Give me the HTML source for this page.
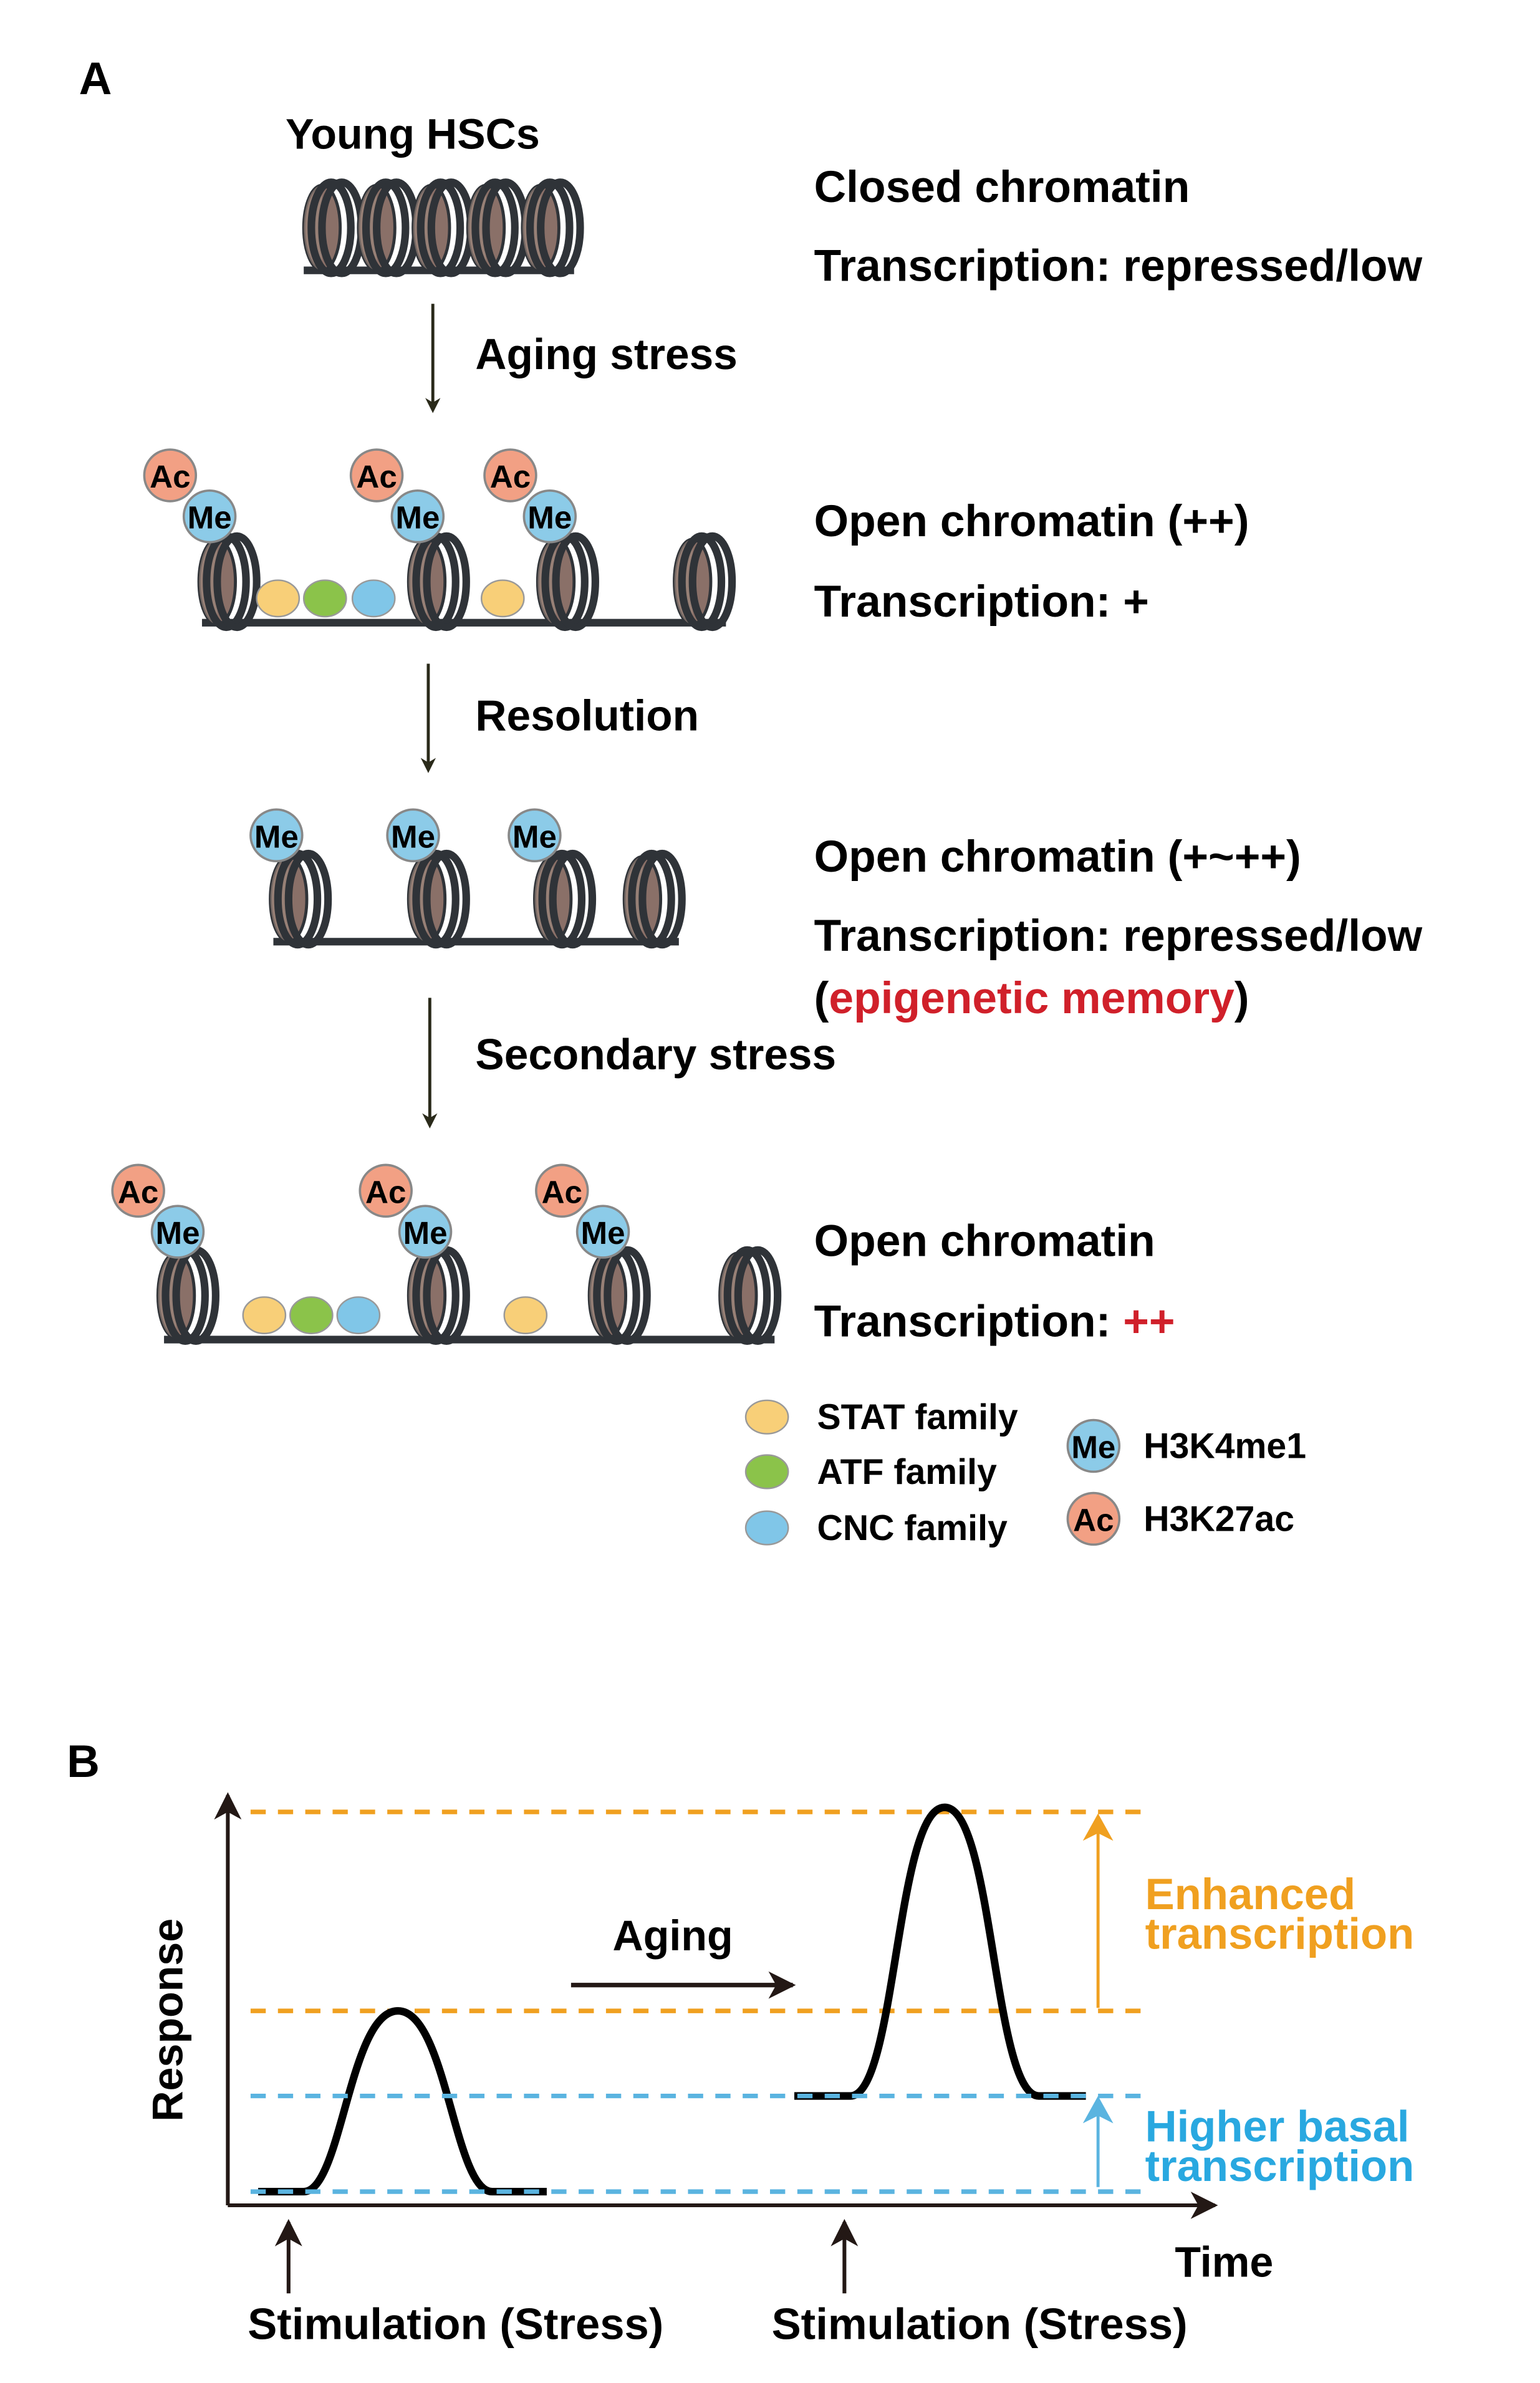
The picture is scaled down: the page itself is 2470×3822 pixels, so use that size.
<!DOCTYPE html>
<html><head><meta charset="utf-8"><style>
html,body{margin:0;padding:0;background:#fff}
svg{display:block}
text{font-family:"Liberation Sans",Arial,sans-serif;font-weight:bold}
</style></head><body>
<svg width="2470" height="3822" viewBox="0 0 1014 1569" preserveAspectRatio="none" xmlns="http://www.w3.org/2000/svg">
<defs>
<g id="nuc">
  <ellipse cx="0" cy="0" rx="12" ry="28" fill="#8a7068" stroke="#2f3338" stroke-width="2"/>
  <path d="M0,-28 A12,28 0 0 0 0,28 Z" fill="#a08a80" opacity="0.6"/>
  <ellipse cx="6" cy="0" rx="13" ry="30" fill="none" stroke="#2f3338" stroke-width="5"/>
  <ellipse cx="13" cy="0" rx="13" ry="30" fill="none" stroke="#2f3338" stroke-width="5"/>
</g>
<g id="me"><circle r="17" fill="#8ccbe8" stroke="#888" stroke-width="1.5"/><text y="8" text-anchor="middle" font-size="21" fill="#000">Me</text></g>
<g id="ac"><circle r="17" fill="#f2a084" stroke="#888" stroke-width="1.5"/><text y="8" text-anchor="middle" font-size="21" fill="#000">Ac</text></g>
<marker id="ah" markerWidth="10" markerHeight="10" refX="8" refY="5" orient="auto" markerUnits="userSpaceOnUse"><path d="M0,0 L10,5 L0,10 L3,5Z" fill="#2a2a1a"/></marker>
<marker id="ah2" markerWidth="18" markerHeight="18" refX="16" refY="9" orient="auto" markerUnits="userSpaceOnUse"><path d="M0,0 L18,9 L0,18 L5,9Z" fill="#231815"/></marker>
<marker id="aho" markerWidth="18" markerHeight="20" refX="16" refY="10" orient="auto" markerUnits="userSpaceOnUse"><path d="M0,0 L18,10 L0,20 L5,10Z" fill="#f0a020"/></marker>
<marker id="ahb" markerWidth="18" markerHeight="20" refX="16" refY="10" orient="auto" markerUnits="userSpaceOnUse"><path d="M0,0 L18,10 L0,20 L5,10Z" fill="#5ab4e0"/></marker>
</defs>

<text x="52" y="62" font-size="30">A</text>
<text x="188" y="98" font-size="28">Young HSCs</text>
<path d="M200,178 L378,178" stroke="#2f3338" stroke-width="5"/>
<use href="#nuc" x="212" y="150"/><use href="#nuc" x="248" y="150"/><use href="#nuc" x="284" y="150"/><use href="#nuc" x="320" y="150"/><use href="#nuc" x="356" y="150"/>
<text x="536" y="133" font-size="29.3">Closed chromatin</text>
<text x="536" y="185" font-size="29.3">Transcription: repressed/low</text>
<line x1="285" y1="200" x2="285" y2="270" stroke="#2a2a1a" stroke-width="2" marker-end="url(#ah)"/>
<text x="313" y="243" font-size="28.5">Aging stress</text>

<path d="M133,410 L478,410" stroke="#2f3338" stroke-width="5"/>
<use href="#nuc" x="143" y="383"/><use href="#nuc" x="281" y="383"/><use href="#nuc" x="366" y="383"/><use href="#nuc" x="456" y="383"/>
<ellipse cx="183" cy="394" rx="14" ry="12" fill="#f8cf78" stroke="#999"/>
<ellipse cx="214" cy="394" rx="14" ry="12" fill="#8bc34a" stroke="#999"/>
<ellipse cx="246" cy="394" rx="14" ry="12" fill="#80c6e8" stroke="#999"/>
<ellipse cx="331" cy="394" rx="14" ry="12" fill="#f8cf78" stroke="#999"/>
<use href="#ac" x="112" y="313"/><use href="#me" x="138" y="340"/>
<use href="#ac" x="248" y="313"/><use href="#me" x="275" y="340"/>
<use href="#ac" x="336" y="313"/><use href="#me" x="362" y="340"/>
<text x="536" y="353" font-size="29.3">Open chromatin (++)</text>
<text x="536" y="406" font-size="29.3">Transcription: +</text>
<line x1="282" y1="437" x2="282" y2="507" stroke="#2a2a1a" stroke-width="2" marker-end="url(#ah)"/>
<text x="313" y="481" font-size="28.5">Resolution</text>

<path d="M180,620 L447,620" stroke="#2f3338" stroke-width="5"/>
<use href="#nuc" x="190" y="592"/><use href="#nuc" x="281" y="592"/><use href="#nuc" x="364" y="592"/><use href="#nuc" x="423" y="592"/>
<use href="#me" x="182" y="550"/><use href="#me" x="272" y="550"/><use href="#me" x="352" y="550"/>
<text x="536" y="574" font-size="29.3">Open chromatin (+~++)</text>
<text x="536" y="626" font-size="29.3">Transcription: repressed/low</text>
<text x="536" y="667" font-size="29.3">(<tspan fill="#d0202a">epigenetic memory</tspan>)</text>
<line x1="283" y1="657" x2="283" y2="741" stroke="#2a2a1a" stroke-width="2" marker-end="url(#ah)"/>
<text x="313" y="704" font-size="28.5">Secondary stress</text>

<path d="M108,882 L510,882" stroke="#2f3338" stroke-width="5"/>
<use href="#nuc" x="116" y="853"/><use href="#nuc" x="281" y="853"/><use href="#nuc" x="400" y="853"/><use href="#nuc" x="486" y="853"/>
<ellipse cx="174" cy="866" rx="14" ry="12" fill="#f8cf78" stroke="#999"/>
<ellipse cx="205" cy="866" rx="14" ry="12" fill="#8bc34a" stroke="#999"/>
<ellipse cx="236" cy="866" rx="14" ry="12" fill="#80c6e8" stroke="#999"/>
<ellipse cx="346" cy="866" rx="14" ry="12" fill="#f8cf78" stroke="#999"/>
<use href="#ac" x="91" y="784"/><use href="#me" x="117" y="811"/>
<use href="#ac" x="254" y="784"/><use href="#me" x="280" y="811"/>
<use href="#ac" x="370" y="784"/><use href="#me" x="397" y="811"/>
<text x="536" y="827" font-size="29.3">Open chromatin</text>
<text x="536" y="880" font-size="29.3">Transcription: <tspan fill="#d0202a">++</tspan></text>

<ellipse cx="505" cy="933" rx="14" ry="11" fill="#f8cf78" stroke="#999"/>
<ellipse cx="505" cy="969" rx="14" ry="11" fill="#8bc34a" stroke="#999"/>
<ellipse cx="505" cy="1006" rx="14" ry="11" fill="#80c6e8" stroke="#999"/>
<text x="538" y="941" font-size="23.5">STAT family</text>
<text x="538" y="977" font-size="23.5">ATF family</text>
<text x="538" y="1014" font-size="23.5">CNC family</text>
<use href="#me" x="720" y="952"/><use href="#ac" x="720" y="1000"/>
<text x="753" y="960" font-size="23.5">H3K4me1</text>
<text x="753" y="1008" font-size="23.5">H3K27ac</text>

<text x="44" y="1170" font-size="30">B</text>
<line x1="150" y1="1452" x2="150" y2="1182" stroke="#231815" stroke-width="2.5" marker-end="url(#ah2)"/>
<line x1="150" y1="1452" x2="800" y2="1452" stroke="#231815" stroke-width="2.5" marker-end="url(#ah2)"/>
<g stroke-width="3" stroke-dasharray="10,8" fill="none">
<line x1="165" y1="1193" x2="755" y2="1193" stroke="#f0a020"/>
<line x1="165" y1="1324" x2="755" y2="1324" stroke="#f0a020"/>
</g>
<path d="M170,1443 L200,1443 C225,1443 230,1324 262,1324 C294,1324 299,1443 324,1443 L360,1443" fill="none" stroke="#000" stroke-width="5"/>
<path d="M523,1380 L560,1380 C590,1380 590,1190 622,1190 C654,1190 654,1380 684,1380 L715,1380" fill="none" stroke="#000" stroke-width="5"/>
<g stroke-width="3" stroke-dasharray="10,8" fill="none">
<line x1="165" y1="1380" x2="755" y2="1380" stroke="#5ab4e0"/>
<line x1="165" y1="1443" x2="755" y2="1443" stroke="#5ab4e0"/>
</g>
<line x1="376" y1="1307" x2="522" y2="1307" stroke="#231815" stroke-width="3" marker-end="url(#ah2)"/>
<text x="443" y="1284" font-size="28" text-anchor="middle">Aging</text>
<line x1="723" y1="1322" x2="723" y2="1196" stroke="#f0a020" stroke-width="2" marker-end="url(#aho)"/>
<line x1="723" y1="1440" x2="723" y2="1382" stroke="#5ab4e0" stroke-width="2" marker-end="url(#ahb)"/>
<text x="754" y="1257" font-size="29" fill="#f0a020">Enhanced</text>
<text x="754" y="1283" font-size="29" fill="#f0a020">transcription</text>
<text x="754" y="1410" font-size="29" fill="#29a8e0">Higher basal</text>
<text x="754" y="1436" font-size="29" fill="#29a8e0">transcription</text>
<text transform="translate(120,1330) rotate(-90)" font-size="28" text-anchor="middle">Response</text>
<text x="806" y="1499" font-size="28" text-anchor="middle">Time</text>
<line x1="190" y1="1510" x2="190" y2="1463" stroke="#231815" stroke-width="2.5" marker-end="url(#ah2)"/>
<line x1="556" y1="1510" x2="556" y2="1463" stroke="#231815" stroke-width="2.5" marker-end="url(#ah2)"/>
<text x="300" y="1540" font-size="29" text-anchor="middle">Stimulation (Stress)</text>
<text x="645" y="1540" font-size="29" text-anchor="middle">Stimulation (Stress)</text>
</svg>
</body></html>
